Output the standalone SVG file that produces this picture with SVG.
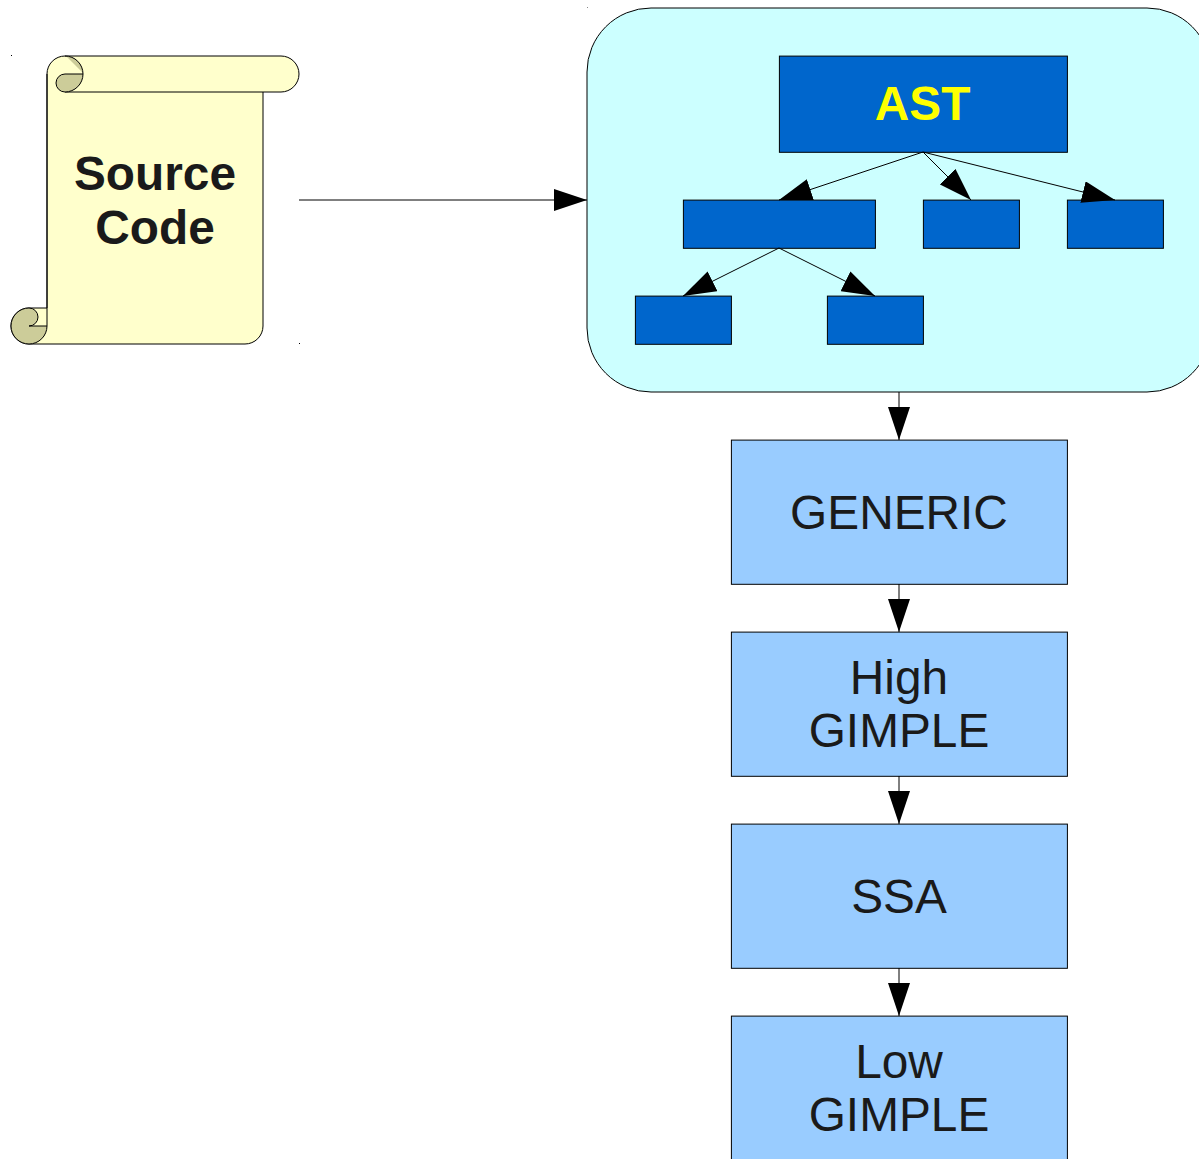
<svg xmlns="http://www.w3.org/2000/svg" width="1199" height="1159" viewBox="0 0 1199 1159">
<style>
.s{stroke:#000;stroke-width:1}
.a{fill:#0066cc}
.b{fill:#99ccff}
.d{fill:#cccc99}
.y{fill:#ffffcc}
.n{fill:none}
.c{fill:none;stroke:#000;stroke-width:1;marker-end:url(#h)}
text{font-family:"Liberation Sans",Arial,sans-serif;font-size:47.8px;text-anchor:middle;fill:#1a1a1a}
.t{font-weight:bold}
</style>
<defs>
<marker id="h" markerUnits="userSpaceOnUse" markerWidth="33" markerHeight="22" refX="33" refY="11" orient="auto"><path d="M0,0L33,11L0,22z" fill="#000"/></marker>
</defs>
<rect width="1199" height="1159" fill="#fff"/>
<g id="source-code">
<path class="y s" d="M65,56H281a18,18 0 0 1 0,36H263V326a18,18 0 0 1 -18,18H29a18,18 0 0 1 0,-36H47V74a18,18 0 0 1 18,-18z"/>
<path class="y n s" d="M65,92H263"/>
<path class="d" d="M66,56A18,18 0 0 1 83,73z"/>
<path class="d s" d="M83,74H65a9,9 0 0 0 0,18a18,18 0 0 0 18,-18z"/>
<path class="n s" d="M65,56a18,18 0 0 1 18,18"/>
<path class="d s" d="M29,308a18,18 0 1 0 18,18H29a9,9 0 0 0 0,-18z"/>
<path class="n s" d="M47,74V326"/>
<rect x="11" y="55" width="1" height="1" fill="#000"/>
<rect x="299" y="343" width="1" height="1" fill="#000"/>
<text class="t" x="155" y="190">Source</text>
<text class="t" x="155" y="244">Code</text>
</g>
<g id="ast-container">
<rect x="587" y="8" width="624" height="384" rx="64" ry="64" fill="#ccffff" class="s"/>
<rect x="587" y="7" width="1" height="1" fill="#888"/>
</g>
<g id="ast"><rect class="a s" x="779.4" y="56.1" width="288" height="96.2"/><text class="t" x="922.6" y="120" style="fill:#ffff00">AST</text></g>
<g id="child-1"><rect class="a s" x="683.4" y="200.1" width="192" height="48.2"/></g>
<g id="child-2"><rect class="a s" x="923.4" y="200.1" width="96" height="48.2"/></g>
<g id="child-3"><rect class="a s" x="1067.4" y="200.1" width="96" height="48.2"/></g>
<g id="leaf-1"><rect class="a s" x="635.4" y="296.1" width="96" height="48.2"/></g>
<g id="leaf-2"><rect class="a s" x="827.4" y="296.1" width="96" height="48.2"/></g>
<g id="generic"><rect class="b s" x="731.4" y="440.1" width="336" height="144.2"/><text x="899" y="528.6">GENERIC</text></g>
<g id="high-gimple"><rect class="b s" x="731.4" y="632.1" width="336" height="144.2"/><text x="899" y="693.6">High</text><text x="899" y="747.4">GIMPLE</text></g>
<g id="ssa"><rect class="b s" x="731.4" y="824.1" width="336" height="144.2"/><text x="899" y="912.6">SSA</text></g>
<g id="low-gimple"><rect class="b s" x="731.4" y="1016.1" width="336" height="144.2"/><text x="899" y="1077.6">Low</text><text x="899" y="1131.4">GIMPLE</text></g>
<g id="connectors">
<path class="c" d="M299,200H587"/>
<path class="c" d="M923,152L779,200"/>
<path class="c" d="M923,152L971,200"/>
<path class="c" d="M923,152L1115,200"/>
<path class="c" d="M779,248L683,296"/>
<path class="c" d="M779,248L875,296"/>
<path class="c" d="M899,392V440"/>
<path class="c" d="M899,584V632"/>
<path class="c" d="M899,776V824"/>
<path class="c" d="M899,968V1016"/>
</g>
</svg>
